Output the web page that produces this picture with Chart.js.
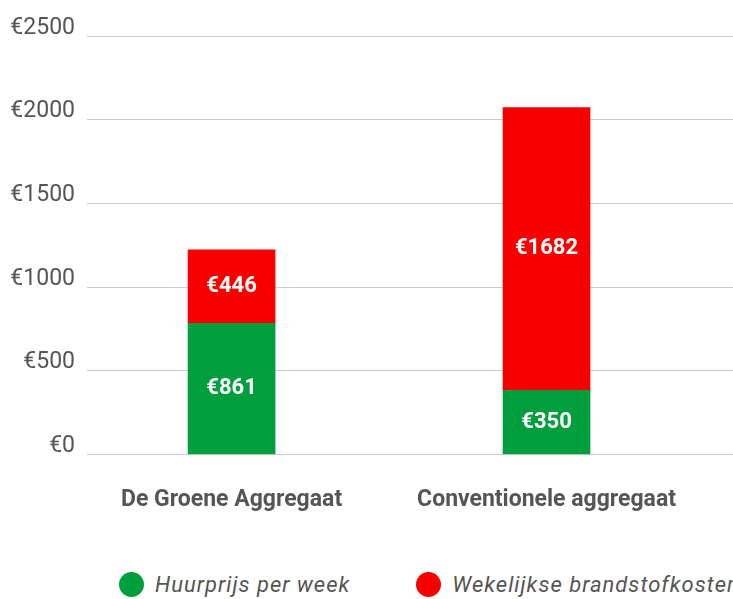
<!DOCTYPE html>
<html>
<head>
<meta charset="utf-8">
<script src="https://cdn.jsdelivr.net/npm/chart.js@4"></script>
<style>
  body { margin: 0; background: #fff; }
  #wrap { position: relative; width: 733px; height: 599px; overflow: hidden; }
  #legend { position: absolute; left: 119px; top: 572px; display: flex; gap: 66px; white-space: nowrap; }
  .item { display: flex; align-items: center; font: italic 22px Roboto, sans-serif; letter-spacing: 1px; color: #555; }
  .dot { width: 25px; height: 25px; border-radius: 50%; margin-right: 11px; }
</style>
</head>
<body>
<div id="wrap">
  <canvas id="myChart" width="733" height="538"></canvas>
  <div id="legend"></div>
</div>
<script>
// data
const categories = ["De Groene Aggregaat", "Conventionele aggregaat"];
const seriesNames = ["Huurprijs per week", "Wekelijkse brandstofkosten"];
// bar heights as drawn in the picture
const rentValues = [783, 383];
const fuelValues = [439, 1689];
// the texts printed inside the bars
const rentLabels = ["€861", "€350"];
const fuelLabels = ["€446", "€1682"];
const yTicks = [0, 500, 1000, 1500, 2000, 2500];

const colors = ["#009e3d", "#f80000"];

const data = {
  datasets: [
    {
      label: seriesNames[0],
      data: rentValues.map((v, i) => ({ x: i, y: v })),
      backgroundColor: colors[0],
      barLabels: rentLabels,
    },
    {
      label: seriesNames[1],
      data: fuelValues.map((v, i) => ({ x: i, y: v })),
      backgroundColor: colors[1],
      barLabels: fuelLabels,
    },
  ],
};

// plugin - text in the middle of every bar segment
const barText = {
  id: "barText",
  afterDatasetsDraw(chart) {
    const { ctx } = chart;
    ctx.save();
    ctx.fillStyle = "#fff";
    ctx.font = "bold 22px Roboto";
    ctx.textAlign = "center";
    ctx.textBaseline = "middle";
    chart.data.datasets.forEach((ds, d) => {
      chart.getDatasetMeta(d).data.forEach((bar, i) => {
        const { x, y, base } = bar.getProps(["x", "y", "base"], true);
        ctx.fillText(ds.barLabels[i], x, (y + base) / 2);
      });
    });
    ctx.restore();
  },
};

// config block
const config = {
  type: "bar",
  data: data,
  options: {
    responsive: false,
    animation: false,
    devicePixelRatio: 1,
    barThickness: 87,
    layout: { padding: { top: 36, right: 0, left: 0, bottom: 0 } },
    plugins: {
      legend: { display: false },
      tooltip: { enabled: false },
    },
    scales: {
      x: {
        type: "linear",
        stacked: true,
        offset: false,
        bounds: "data",
        min: -0.459,
        max: 1.592,
        afterBuildTicks: (scale) => { scale.ticks = categories.map((c, i) => ({ value: i })); },
        grid: { display: false, offset: false },
        border: { display: false },
        ticks: {
          maxRotation: 0,
          autoSkip: false,
          padding: 24,
          color: "#555",
          font: { family: "Roboto", size: 23, weight: "bold" },
          callback: (v) => categories[v],
        },
      },
      y: {
        stacked: true,
        min: yTicks[0],
        max: yTicks[yTicks.length - 1],
        afterFit: (scale) => { scale.width = 87; },
        afterBuildTicks: (scale) => { scale.ticks = yTicks.map((v) => ({ value: v })); },
        grid: { color: "#cccccc", lineWidth: 1, drawTicks: false },
        border: { display: false },
        ticks: {
          padding: 12,
          labelOffset: -8,
          color: "#555",
          font: { family: "Roboto", size: 23 },
          callback: (v) => "€" + v,
        },
      },
    },
  },
  plugins: [barText],
};

// render init block
const myChart = new Chart(document.getElementById("myChart"), config);

// legend below the canvas
const legend = document.getElementById("legend");
seriesNames.forEach((name, i) => {
  const item = document.createElement("div");
  item.className = "item";
  item.innerHTML = '<span class="dot" style="background:' + colors[i] + '"></span>' + name;
  legend.appendChild(item);
});
</script>
</body>
</html>
